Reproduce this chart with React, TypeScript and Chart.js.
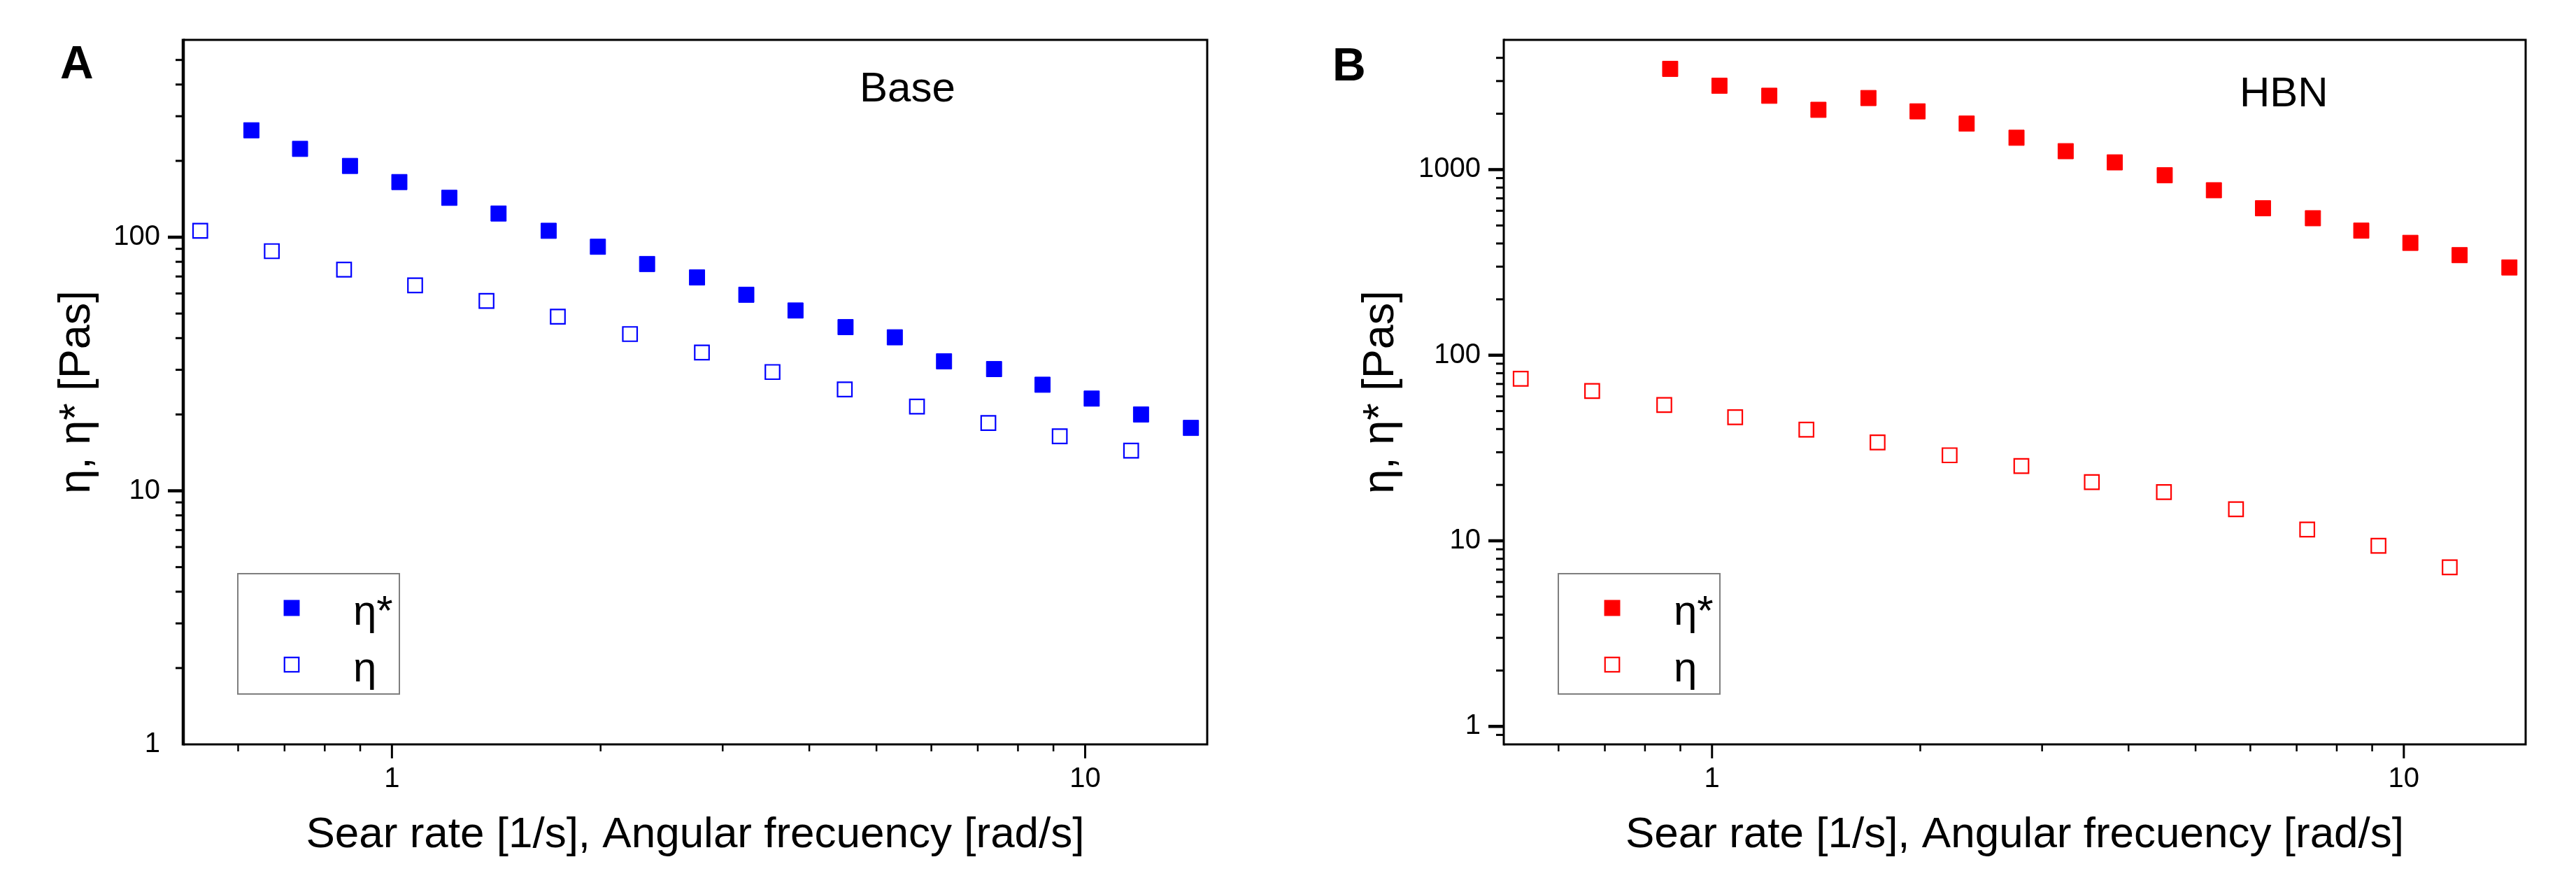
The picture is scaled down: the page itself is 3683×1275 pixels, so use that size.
import { useEffect, useRef } from "react"
import { Chart, registerables } from "chart.js"

Chart.register(...registerables)

const FONT = "Arial, 'Liberation Sans', sans-serif"

// oscillatory sweep (η*) and rotational sweep (η) abscissas
const freqStar = [0.627, 0.737, 0.87, 1.025, 1.21, 1.425, 1.683, 1.982, 2.334, 2.755, 3.245, 3.821, 4.512, 5.314, 6.258, 7.389, 8.68, 10.22, 12.04, 14.21]
const shearRate = [0.529, 0.671, 0.853, 1.08, 1.369, 1.735, 2.205, 2.8, 3.54, 4.5, 5.72, 7.25, 9.19, 11.65]

// panel A - Base
const baseEtaStar = [264, 223, 191, 165, 143, 124, 106, 91.7, 78.4, 69.4, 59.3, 51.4, 44.2, 40.3, 32.4, 30.2, 26.2, 23.1, 20.0, 17.7]
const baseEta = [106, 88.1, 74.5, 64.6, 56.1, 48.6, 41.5, 35.1, 29.4, 25.1, 21.5, 18.5, 16.4, 14.4]

// panel B - HBN (η* starts at the third frequency)
const hbnFreqStar = [0.87, 1.025, 1.21, 1.425, 1.683, 1.982, 2.334, 2.755, 3.245, 3.821, 4.512, 5.314, 6.258, 7.389, 8.68, 10.22, 12.04, 14.21]
const hbnEtaStar = [3490, 2830, 2500, 2100, 2430, 2060, 1770, 1485, 1257, 1094, 933, 774, 619, 547, 469, 403, 346, 297]
const hbnEta = [74.7, 64.1, 53.9, 46.3, 39.7, 33.9, 28.9, 25.3, 20.7, 18.3, 14.8, 11.5, 9.4, 7.2]

const xTickLabels = [1, 10]
const baseYTickLabels = [1, 10, 100]
const hbnYTickLabels = [1, 10, 100, 1000]
const seriesLabels = ["η*", "η"]

const xTitle = "Sear rate [1/s], Angular frecuency [rad/s]"
const yTitle = "η, η* [Pas]"

interface PanelProps {
  letter: string
  name: string
  color: string
  xStar: number[]
  yStar: number[]
  xEta: number[]
  yEta: number[]
  yMin: number
  yMax: number
  yTicks: number[]
  left: number
  width: number
  yAxisWidth: number
  padRight: number
  yTitlePad: number
  leftLineWidth: number
  letterX: number
  letterY: number
  nameX: number
  nameY: number
}

// log-decade minor/major tick values strictly inside (min, max)
function decadeTicks(min: number, max: number) {
  const out: { v: number; major: boolean }[] = []
  for (let e = Math.floor(Math.log10(min)); e <= Math.ceil(Math.log10(max)); e++) {
    for (let k = 1; k < 10; k++) {
      const v = k * Math.pow(10, e)
      if (v > min * 1.0001 && v < max * 0.9999) out.push({ v, major: k === 1 })
    }
  }
  return out
}

function Panel(props: PanelProps) {
  const chartRef = useRef<HTMLCanvasElement>(null)
  const chartInstance = useRef<Chart | null>(null)

  useEffect(() => {
    if (!chartRef.current) return
    if (chartInstance.current) chartInstance.current.destroy()
    const ctx = chartRef.current.getContext("2d")
    if (!ctx) return

    const originPlugin = {
      id: "originFrame",
      afterDraw(chart: any) {
        const c = chart.ctx
        const { left, right, top, bottom } = chart.chartArea
        const xs = chart.scales.x
        const ys = chart.scales.y
        c.save()
        c.strokeStyle = "#000"
        c.lineCap = "butt"

        // minor / major ticks, outward
        for (const t of decadeTicks(ys.min, ys.max)) {
          const py = ys.getPixelForValue(t.v)
          c.lineWidth = t.major ? 4.5 : 3
          c.beginPath()
          c.moveTo(left - (t.major ? 22 : 11), py)
          c.lineTo(left, py)
          c.stroke()
        }
        for (const t of decadeTicks(xs.min, xs.max)) {
          const px = xs.getPixelForValue(t.v)
          c.lineWidth = t.major ? 3 : 2.5
          c.beginPath()
          c.moveTo(px, bottom)
          c.lineTo(px, bottom + (t.major ? 20 : 10))
          c.stroke()
        }

        // frame
        c.lineWidth = 3
        c.beginPath()
        c.moveTo(left, top)
        c.lineTo(right, top)
        c.lineTo(right, bottom)
        c.lineTo(left, bottom)
        c.stroke()
        c.lineWidth = props.leftLineWidth
        c.beginPath()
        c.moveTo(left, top - 1.5)
        c.lineTo(left, bottom + 1.5)
        c.stroke()

        // legend box
        const bx = left + 78
        const bw = 231
        const bh = 172
        const by = bottom - 72 - bh
        c.strokeStyle = "#7f7f7f"
        c.lineWidth = 2
        c.strokeRect(bx, by, bw, bh)
        chart.data.datasets.forEach((ds: any, i: number) => {
          const cy = by + 49 + i * 81
          const cx = bx + 77
          const half = (ds.pointRadius * Math.SQRT2) / 2
          if (ds.backgroundColor !== "rgba(0,0,0,0)") {
            c.fillStyle = ds.backgroundColor
            c.fillRect(cx - half - 0.5, cy - half - 0.5, 2 * half + 1, 2 * half + 1)
          } else {
            c.strokeStyle = ds.borderColor
            c.lineWidth = ds.borderWidth
            c.strokeRect(cx - half, cy - half, 2 * half, 2 * half)
          }
          c.fillStyle = "#000"
          c.font = `60px ${FONT}`
          c.textAlign = "left"
          c.textBaseline = "alphabetic"
          c.fillText(ds.label, bx + 165, cy + 24)
        })

        // panel letter and sample name
        c.fillStyle = "#000"
        c.textBaseline = "alphabetic"
        c.textAlign = "left"
        c.font = `bold 66px ${FONT}`
        c.fillText(props.letter, props.letterX, props.letterY)
        c.font = `60px ${FONT}`
        c.fillText(props.name, props.nameX, props.nameY)
        c.restore()
      },
    }

    chartInstance.current = new Chart(ctx, {
      type: "scatter",
      data: {
        datasets: [
          {
            label: seriesLabels[0],
            data: props.xStar.map((x, i) => ({ x, y: props.yStar[i] })),
            pointStyle: "rect",
            pointRadius: 15.5,
            backgroundColor: props.color,
            borderColor: props.color,
            borderWidth: 1,
            showLine: false,
          },
          {
            label: seriesLabels[1],
            data: props.xEta.map((x, i) => ({ x, y: props.yEta[i] })),
            pointStyle: "rect",
            pointRadius: 14.5,
            backgroundColor: "rgba(0,0,0,0)",
            borderColor: props.color,
            borderWidth: 2.2,
            showLine: false,
          },
        ],
      },
      plugins: [originPlugin],
      options: {
        responsive: false,
        animation: false,
        layout: { padding: { left: 0, top: 41, right: props.padRight, bottom: 0 } },
        plugins: {
          legend: { display: false },
          tooltip: { enabled: false },
        },
        scales: {
          x: {
            type: "logarithmic",
            min: 0.5,
            max: 15,
            grid: { display: false, drawTicks: false },
            border: { display: false },
            afterBuildTicks: (scale: any) => {
              scale.ticks = xTickLabels.map((v) => ({ value: v }))
            },
            afterFit: (scale: any) => {
              scale.height = 211
            },
            ticks: {
              autoSkip: false,
              maxRotation: 0,
              padding: 26,
              color: "#000",
              font: { family: FONT, size: 40 },
              callback: (v: any) => String(v),
            },
            title: {
              display: true,
              text: xTitle,
              color: "#000",
              font: { family: FONT, size: 62 },
              padding: { top: 0, bottom: 44 },
            },
          },
          y: {
            type: "logarithmic",
            min: props.yMin,
            max: props.yMax,
            grid: { display: false, drawTicks: false },
            border: { display: false },
            afterBuildTicks: (scale: any) => {
              scale.ticks = props.yTicks.map((v) => ({ value: v }))
            },
            afterFit: (scale: any) => {
              scale.width = props.yAxisWidth
            },
            ticks: {
              autoSkip: false,
              padding: 33,
              color: "#000",
              font: { family: FONT, size: 40 },
              callback: (v: any) => String(v),
            },
            title: {
              display: true,
              text: yTitle,
              color: "#000",
              font: { family: FONT, size: 63 },
              padding: { top: props.yTitlePad, bottom: 0 },
            },
          },
        },
      },
    })

    return () => {
      if (chartInstance.current) {
        chartInstance.current.destroy()
        chartInstance.current = null
      }
    }
  }, [props])

  return (
    <div style={{ position: "absolute", left: props.left, top: 0, width: props.width, height: 1275 }}>
      <canvas ref={chartRef} width={props.width} height={1275} style={{ display: "block" }} />
    </div>
  )
}

export default function App() {
  return (
    <div style={{ position: "absolute", left: 0, top: 0, width: 3683, height: 1275, background: "#fff" }}>
      <Panel
        letter="A"
        name="Base"
        color="#0000ff"
        xStar={freqStar}
        yStar={baseEtaStar}
        xEta={shearRate}
        yEta={baseEta}
        yMin={1}
        yMax={600}
        yTicks={baseYTickLabels}
        left={0}
        width={1840}
        yAxisWidth={262}
        padRight={114}
        yTitlePad={73}
        leftLineWidth={4.5}
        letterX={86}
        letterY={112}
        nameX={1229}
        nameY={145}
      />
      <Panel
        letter="B"
        name="HBN"
        color="#ff0000"
        xStar={hbnFreqStar}
        yStar={hbnEtaStar}
        xEta={shearRate}
        yEta={hbnEta}
        yMin={0.8}
        yMax={5000}
        yTicks={hbnYTickLabels}
        left={1840}
        width={1843}
        yAxisWidth={310}
        padRight={72}
        yTitlePad={97}
        leftLineWidth={3}
        letterX={65}
        letterY={115}
        nameX={1362}
        nameY={152}
      />
    </div>
  )
}
